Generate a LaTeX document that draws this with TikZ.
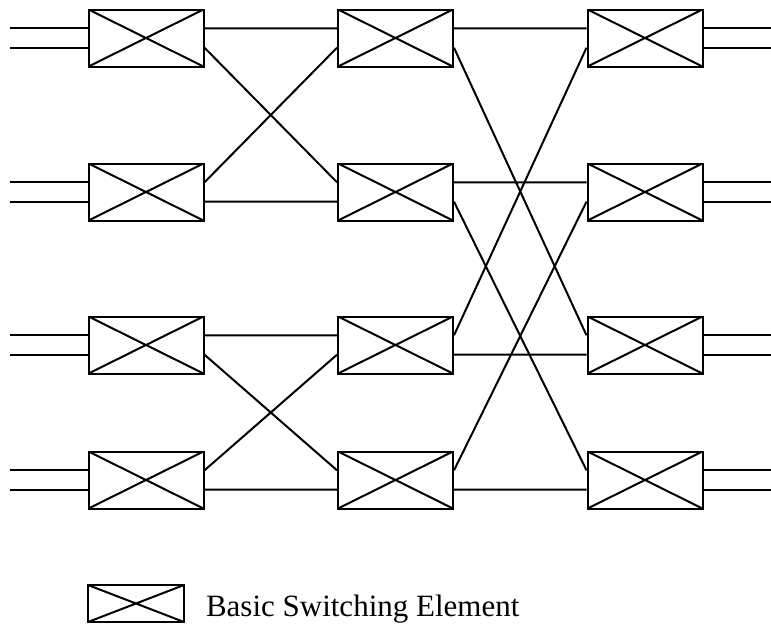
\documentclass[tikz,border=0pt]{standalone}
\usepackage{fontspec}
\setmainfont{Liberation Serif}
\begin{document}
\begin{tikzpicture}[x=1pt, y=-1pt, line width=2pt]
    \tikzstyle{sw}=[draw,shape=rectangle,minimum width=115pt,minimum height=57pt,inner sep=0pt,
        path picture={\draw (path picture bounding box.north west) -- (path picture bounding box.south east)
            (path picture bounding box.south west) -- (path picture bounding box.north east);}];
    \useasboundingbox (0,0) rectangle (771,624);
    %stage 1
    \node[sw] (a1) at (146,38) {};
    \node[sw] (a2) at (146,192) {};
    \node[sw] (a3) at (146,345) {};
    \node[sw] (a4) at (146,480) {};
    %stage 2
    \node[sw] (b1) at (395.5,38) {};
    \node[sw] (b2) at (395.5,192) {};
    \node[sw] (b3) at (395.5,345) {};
    \node[sw] (b4) at (395.5,480) {};
    %stage 3
    \node[sw] (c1) at (645,38) {};
    \node[sw] (c2) at (645,192) {};
    \node[sw] (c3) at (645,345) {};
    \node[sw] (c4) at (645,480) {};
    %inputs
    \draw ([yshift=9.7pt]a1.west) -- +(-78,0) ([yshift=-9.7pt]a1.west) -- +(-78,0);
    \draw ([yshift=9.7pt]a2.west) -- +(-78,0) ([yshift=-9.7pt]a2.west) -- +(-78,0);
    \draw ([yshift=9.7pt]a3.west) -- +(-78,0) ([yshift=-9.7pt]a3.west) -- +(-78,0);
    \draw ([yshift=9.7pt]a4.west) -- +(-78,0) ([yshift=-9.7pt]a4.west) -- +(-78,0);
    %stage 1 to 2
    \draw ([yshift=9.7pt]a1.east) -- ([yshift=9.7pt]b1.west)
          ([yshift=-9.7pt]a1.east) -- ([yshift=9.7pt]b2.west)
          ([yshift=9.7pt]a2.east) -- ([yshift=-9.7pt]b1.west)
          ([yshift=-9.7pt]a2.east) -- ([yshift=-9.7pt]b2.west);
    \draw ([yshift=9.7pt]a3.east) -- ([yshift=9.7pt]b3.west)
          ([yshift=-9.7pt]a3.east) -- ([yshift=9.7pt]b4.west)
          ([yshift=9.7pt]a4.east) -- ([yshift=-9.7pt]b3.west)
          ([yshift=-9.7pt]a4.east) -- ([yshift=-9.7pt]b4.west);
    %stage 2 to 3
    \draw ([yshift=9.7pt]b1.east) -- ([yshift=9.7pt]c1.west)
          ([yshift=-9.7pt]b1.east) -- ([yshift=9.7pt]c3.west)
          ([yshift=9.7pt]b2.east) -- ([yshift=9.7pt]c2.west)
          ([yshift=-9.7pt]b2.east) -- ([yshift=9.7pt]c4.west);
    \draw ([yshift=9.7pt]b3.east) -- ([yshift=-9.7pt]c1.west)
          ([yshift=-9.7pt]b3.east) -- ([yshift=-9.7pt]c3.west)
          ([yshift=9.7pt]b4.east) -- ([yshift=-9.7pt]c2.west)
          ([yshift=-9.7pt]b4.east) -- ([yshift=-9.7pt]c4.west);
    %outputs
    \draw ([yshift=9.7pt]c1.east) -- +(68.5,0) ([yshift=-9.7pt]c1.east) -- +(68.5,0);
    \draw ([yshift=9.7pt]c2.east) -- +(68.5,0) ([yshift=-9.7pt]c2.east) -- +(68.5,0);
    \draw ([yshift=9.7pt]c3.east) -- +(68.5,0) ([yshift=-9.7pt]c3.east) -- +(68.5,0);
    \draw ([yshift=9.7pt]c4.east) -- +(68.5,0) ([yshift=-9.7pt]c4.east) -- +(68.5,0);
    %key
    \node[sw,minimum width=96pt,minimum height=37pt] (key) at (136,603.5) {};
    \node[anchor=base west,inner sep=0pt,font=\fontsize{31}{36}\selectfont] (keytext) at (205,616) {Basic Switching Element};
\end{tikzpicture}
\end{document}
